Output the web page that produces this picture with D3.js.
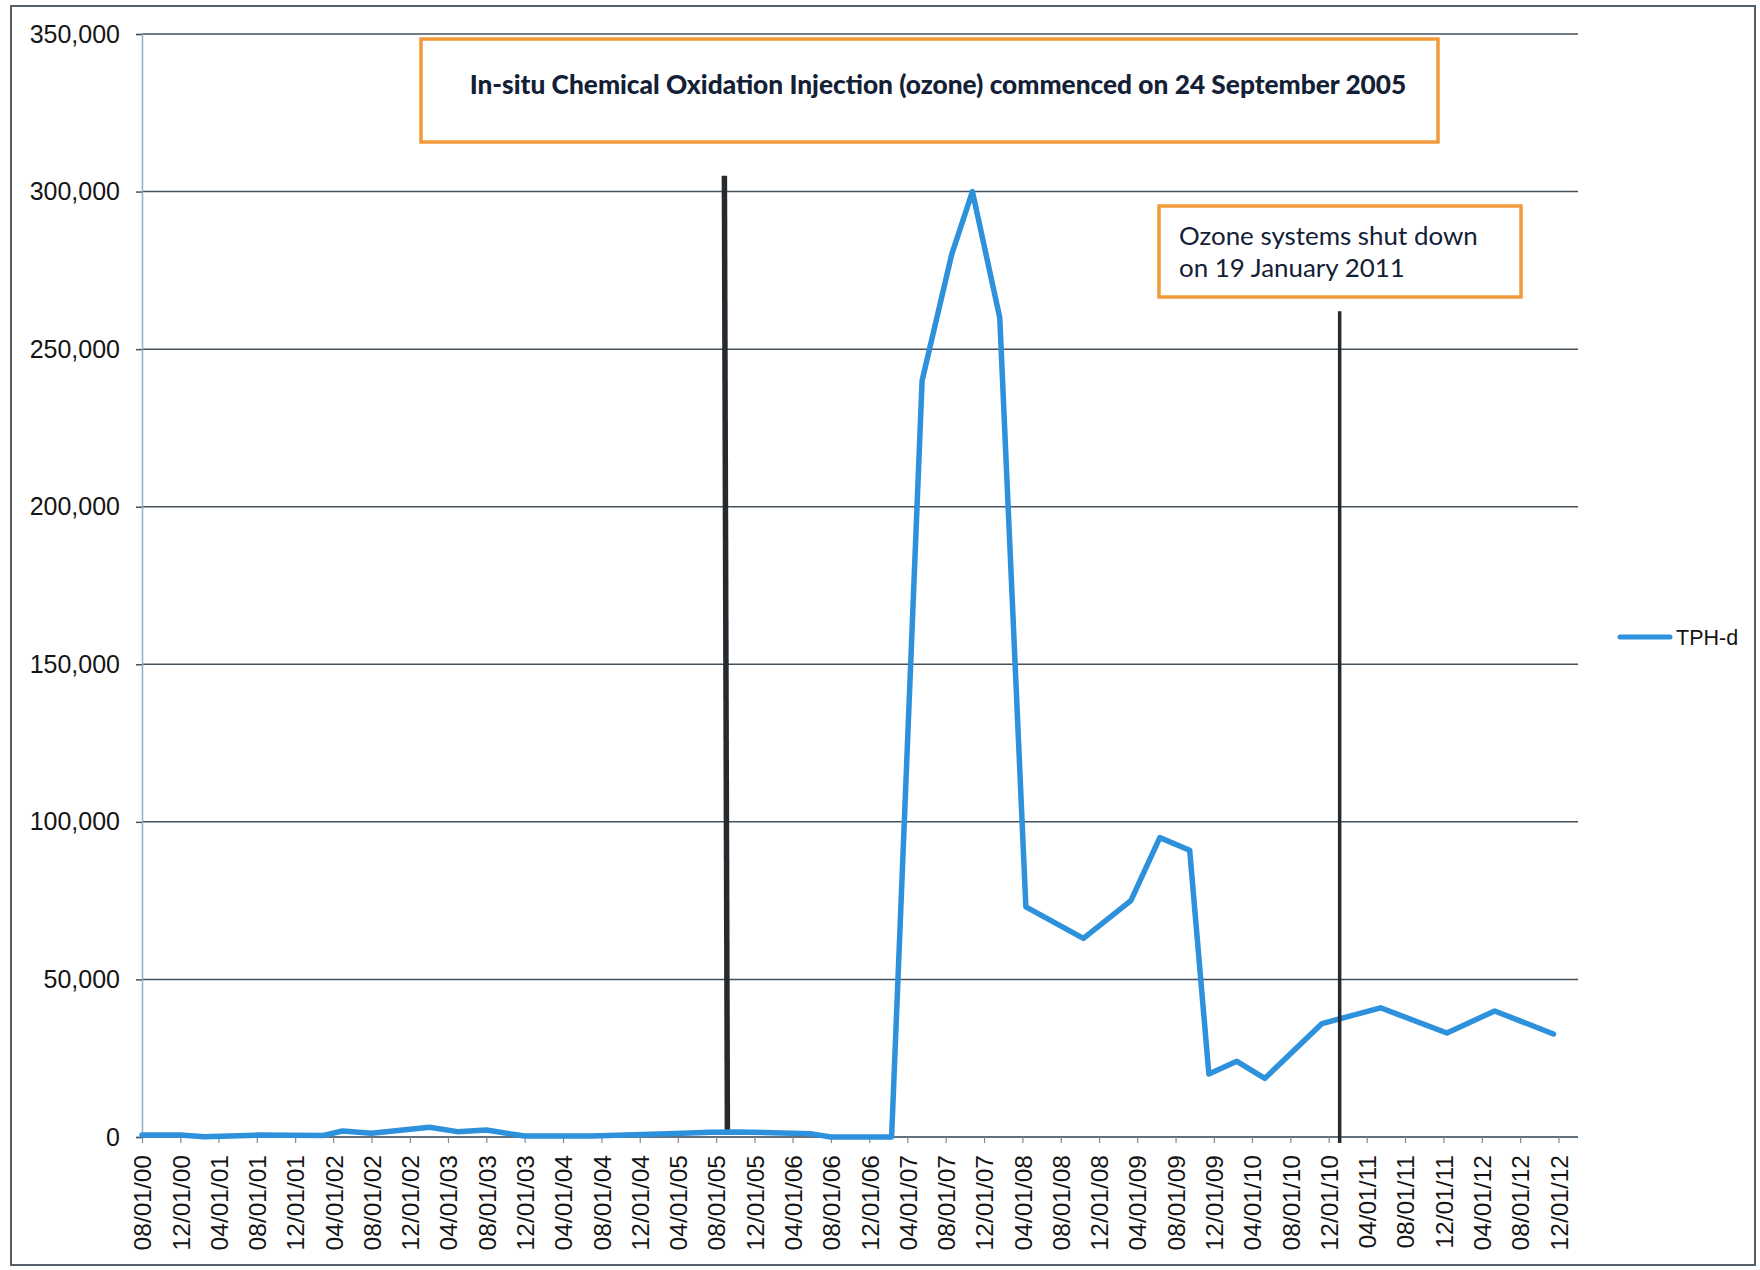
<!DOCTYPE html>
<html><head><meta charset="utf-8">
<script src="https://cdn.jsdelivr.net/npm/d3@7"></script>
<style>body{margin:0;background:#fff}</style>
</head><body>
<svg id="chart" width="1760" height="1270"></svg>
<script>
// ---- data ----
const sampleDates = ["2000-08-01","2000-12-01","2001-02-15","2001-08-01","2002-03-01","2002-05-01","2002-08-01",
  "2003-02-01","2003-05-01","2003-08-01","2003-12-01","2004-07-01","2005-03-01","2005-07-15","2005-10-10",
  "2006-06-01","2006-08-01","2007-02-10","2007-05-18","2007-08-20","2007-10-25","2008-01-20","2008-04-12",
  "2008-10-12","2009-03-12","2009-06-12","2009-09-15","2009-11-15","2010-02-12","2010-05-12","2010-11-10",
  "2011-05-15","2011-12-12","2012-05-12","2012-11-15"];
const tphValues = [600,600,100,600,500,1900,1200,
  3100,1700,2200,300,300,1000,1500,1600,
  1000,0,0,240000,280000,300000,260000,73000,
  63000,75000,95000,91000,20000,24000,18600,36000,
  41000,33000,40000,32700];
const xTickLabels = ["08/01/00","12/01/00","04/01/01","08/01/01","12/01/01","04/01/02","08/01/02","12/01/02",
  "04/01/03","08/01/03","12/01/03","04/01/04","08/01/04","12/01/04","04/01/05","08/01/05","12/01/05",
  "04/01/06","08/01/06","12/01/06","04/01/07","08/01/07","12/01/07","04/01/08","08/01/08","12/01/08",
  "04/01/09","08/01/09","12/01/09","04/01/10","08/01/10","12/01/10","04/01/11","08/01/11","12/01/11",
  "04/01/12","08/01/12","12/01/12"];
const yTickValues = [0,50000,100000,150000,200000,250000,300000,350000];
const seriesName = "TPH-d";
const injectionText = "In-situ Chemical Oxidation Injection (ozone) commenced on 24 September 2005";
const shutdownText = ["Ozone systems shut down","on 19 January 2011"];
const eventDates = ["2005-09-01","2011-01-05"];
const eventTops = [305000, 262000];
const xDomain = ["2000-08-01","2013-02-01"];

// ---- chart ----
const svg = d3.select("#chart");
const parseISO = d3.timeParse("%Y-%m-%d");
const parseTick = d3.timeParse("%m/%d/%y");
const fmtTick = d3.timeFormat("%m/%d/%y");

const L = 142, R = 1578, T = 34, B = 1137;
const x = d3.scaleTime().domain(xDomain.map(parseISO)).range([L, R]);
const y = d3.scaleLinear().domain([0, 350000]).range([B, T]);

svg.append("rect").attr("width",1760).attr("height",1270).attr("fill","#fff");
svg.append("rect").attr("x",11).attr("y",6).attr("width",1744).attr("height",1259)
  .attr("fill","none").attr("stroke","#56606a").attr("stroke-width",2);

// gridlines
svg.append("g").selectAll("line").data(yTickValues).join("line")
  .attr("x1", L).attr("x2", R).attr("y1", d => y(d)).attr("y2", d => y(d))
  .attr("stroke", "#45525e").attr("stroke-width", 1.5);

// y axis
const yAxis = svg.append("g").attr("transform", `translate(${L},0)`)
  .call(d3.axisLeft(y).tickValues(yTickValues).tickSize(6).tickPadding(16).tickFormat(d3.format(",")));
yAxis.select(".domain").attr("stroke","#8fb1c8").attr("stroke-width",1.5);
yAxis.selectAll(".tick line").attr("stroke","#45525e").attr("stroke-width",1.5);
yAxis.selectAll("text").attr("font-family","'Liberation Sans', Arial, sans-serif").attr("font-size",25).attr("fill","#151515");

// x axis
const tickDates = xTickLabels.map(parseTick);
const xAxis = svg.append("g").attr("transform", `translate(0,${B})`)
  .call(d3.axisBottom(x).tickValues(tickDates).tickSize(6).tickFormat(fmtTick));
xAxis.select(".domain").attr("stroke","#5d6d7a").attr("stroke-width",1.5).attr("d", `M${L},0H${R}`);
xAxis.selectAll(".tick line").attr("stroke","#7d8a95").attr("stroke-width",1.2);
xAxis.selectAll("text")
  .attr("font-family","'Liberation Sans', Arial, sans-serif").attr("font-size",24.5).attr("fill","#151515")
  .attr("transform","rotate(-90)").attr("text-anchor","end")
  .attr("x",-18).attr("y",0).attr("dy","0.36em");

// event vertical lines
const ev = eventDates.map(parseISO);
svg.append("line").attr("x1", x(ev[0])-1.5).attr("x2", x(ev[0])+1.5)
  .attr("y1", y(eventTops[0])).attr("y2", y(0)-2)
  .attr("stroke","#262a2e").attr("stroke-width",5.5);

// series line
const pts = sampleDates.map((d,i) => ({date: parseISO(d), v: tphValues[i]}));
svg.append("path").datum(pts)
  .attr("d", d3.line().x(d => x(d.date)).y(d => y(d.v)))
  .attr("fill","none").attr("stroke","#2d91dc").attr("stroke-width",5.5)
  .attr("stroke-linejoin","round").attr("stroke-linecap","round");

svg.append("line").attr("x1", x(ev[1])).attr("x2", x(ev[1]))
  .attr("y1", y(eventTops[1])).attr("y2", y(0)+6)
  .attr("stroke","#262a2e").attr("stroke-width",3.5);

// annotation boxes
const boxFont = "Lato, 'Open Sans', sans-serif";
function fitText(sel, target) {
  const len = sel.node().getComputedTextLength();
  const fs = parseFloat(sel.attr("font-size"));
  sel.attr("font-size", fs * target / len);
}
svg.append("rect").attr("x",421).attr("y",39).attr("width",1017).attr("height",103)
  .attr("fill","#fff").attr("stroke","#f29a3a").attr("stroke-width",3.5);
const t1 = svg.append("text").attr("x",938).attr("y",94).attr("text-anchor","middle")
  .attr("font-family",boxFont).attr("font-weight",900).attr("font-size",22).attr("fill","#132036")
  .text(injectionText);
fitText(t1, 937);

svg.append("rect").attr("x",1159).attr("y",206).attr("width",362).attr("height",91)
  .attr("fill","#fff").attr("stroke","#f29a3a").attr("stroke-width",3.5);
const t2 = svg.append("text").attr("x",1179).attr("y",245)
  .attr("font-family",boxFont).attr("font-size",24).attr("fill","#132036").text(shutdownText[0]);
fitText(t2, 299);
svg.append("text").attr("x",1179).attr("y",277)
  .attr("font-family",boxFont).attr("font-size",t2.attr("font-size")).attr("fill","#132036").text(shutdownText[1]);

// legend
svg.append("line").attr("x1",1620).attr("x2",1670).attr("y1",637).attr("y2",637)
  .attr("stroke","#2d91dc").attr("stroke-width",5).attr("stroke-linecap","round");
svg.append("text").attr("x",1676).attr("y",637).attr("dy","0.36em")
  .attr("font-family","'Liberation Sans', Arial, sans-serif").attr("font-size",21.5).attr("fill","#151515")
  .text(seriesName);
</script>
</body></html>
